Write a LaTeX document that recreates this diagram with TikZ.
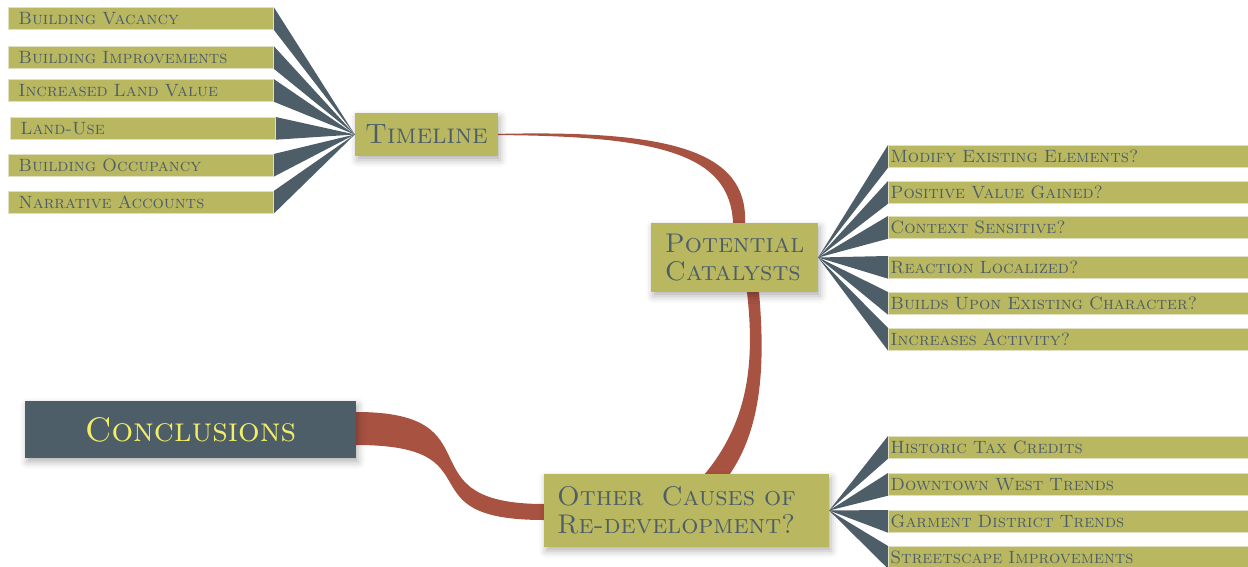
\documentclass[tikz,border=0pt]{standalone}
\usetikzlibrary{shadows.blur,backgrounds}
\definecolor{leafolive}{RGB}{185,184,96}
\definecolor{topicslate}{RGB}{78,94,105}
\definecolor{branchred}{RGB}{168,82,66}
\definecolor{conclyellow}{RGB}{244,238,102}
\definecolor{leafrim}{RGB}{224,224,192}

\begin{document}
\begin{tikzpicture}[x=1pt,y=-1pt,
    topic/.style={fill=leafolive, text=topicslate, align=left, inner sep=0pt,
      font=\fontsize{27}{28.5}\selectfont\scshape,
      blur shadow={shadow xshift=2pt, shadow yshift=-4pt, shadow blur radius=7pt, shadow opacity=30}},
    leaf/.style={fill=leafolive, draw=leafrim, line width=0.7pt, text=topicslate, anchor=north west,
      font=\fontsize{17.8}{19}\selectfont\scshape, minimum height=22pt, inner ysep=0pt},
    leftleaf/.style={leaf, inner xsep=10pt, text width=245pt},
    rightleaf/.style={leaf, inner xsep=2pt, text width=356pt},
    wedge/.style={fill=topicslate},
    ribbon/.style={fill=branchred}]
  \useasboundingbox (0,0) rectangle (1248,567);

  % main topics
  \node[topic, minimum width=143pt, minimum height=43pt, font=\fontsize{28}{30}\selectfont\scshape] (tl) at (426.5,134.5) {Timeline};
  \node[topic, minimum width=167pt, minimum height=69pt] (pc) at (734.5,257.5) {Potential\\Catalysts};
  \node[topic, minimum width=285pt, minimum height=73pt, text width=259pt] (oc) at (686.5,510.5) {Other~~Causes of\\Re-development?};
  \node[topic, fill=topicslate, text=conclyellow, minimum width=331pt, minimum height=57pt,
    font=\fontsize{34}{36}\selectfont\scshape] (concl) at (190.5,429.5) {Conclusions};

  % subtopics
  \foreach \name/\x/\y/\txt in {tl1/8/7/Building Vacancy, tl2/8/46/Building Improvements,
      tl3/8/79/Increased Land Value, tl4/10/117/Land-Use, tl5/8/154/Building Occupancy,
      tl6/8/191/Narrative Accounts}
    \node[leftleaf] (\name) at (\x,\y) {\txt};
  \foreach \name/\y/\txt in {pc1/145/Modify Existing Elements?, pc2/181/Positive Value Gained?,
      pc3/216/Context Sensitive?, pc4/256/Reaction Localized?,
      pc5/292/Builds Upon Existing Character?, pc6/328/Increases Activity?}
    \node[rightleaf] (\name) at (888,\y) {\txt};
  \foreach \name/\y/\txt in {oc1/436/Historic Tax Credits, oc2/473/Downtown West Trends,
      oc3/510/Garment District Trends, oc4/546/Streetscape Improvements}
    \node[rightleaf] (\name) at (888,\y) {\txt};

  \begin{pgfonlayer}{background}
    % wedges to the subtopics
    \foreach \i in {1,...,6}
      \fill[wedge] (tl\i.north east) -- (tl\i.south east) -- (tl.west) -- cycle;
    \foreach \i in {1,...,6}
      \fill[wedge] (pc\i.north west) -- (pc\i.south west) -- (pc.east) -- cycle;
    \foreach \i in {1,...,4}
      \fill[wedge] (oc\i.north west) -- (oc\i.south west) -- (oc.east) -- cycle;

    % tapered branches
    \fill[ribbon] ([yshift=0.6pt]tl.east) .. controls (668,130) and (748,150) .. ([xshift=10.5pt]pc.north)
      -- ([xshift=-1.5pt]pc.north) .. controls (730,155) and (662,136) .. ([yshift=-0.6pt]tl.east) -- cycle;
    \fill[ribbon] ([xshift=24.5pt]pc.south) .. controls (766,370) and (760,430) .. ([xshift=43.5pt]oc.north)
      -- ([xshift=18.5pt]oc.north) .. controls (745,425) and (756,370) .. ([xshift=12.5pt]pc.south) -- cycle;
    \fill[ribbon] ([yshift=17.5pt]concl.east) .. controls (500,412) and (400,504) .. ([yshift=6.5pt]oc.west)
      -- ([yshift=-9.5pt]oc.west) .. controls (400,520) and (500,445) .. ([yshift=-15.5pt]concl.east) -- cycle;
  \end{pgfonlayer}
\end{tikzpicture}
\end{document}
